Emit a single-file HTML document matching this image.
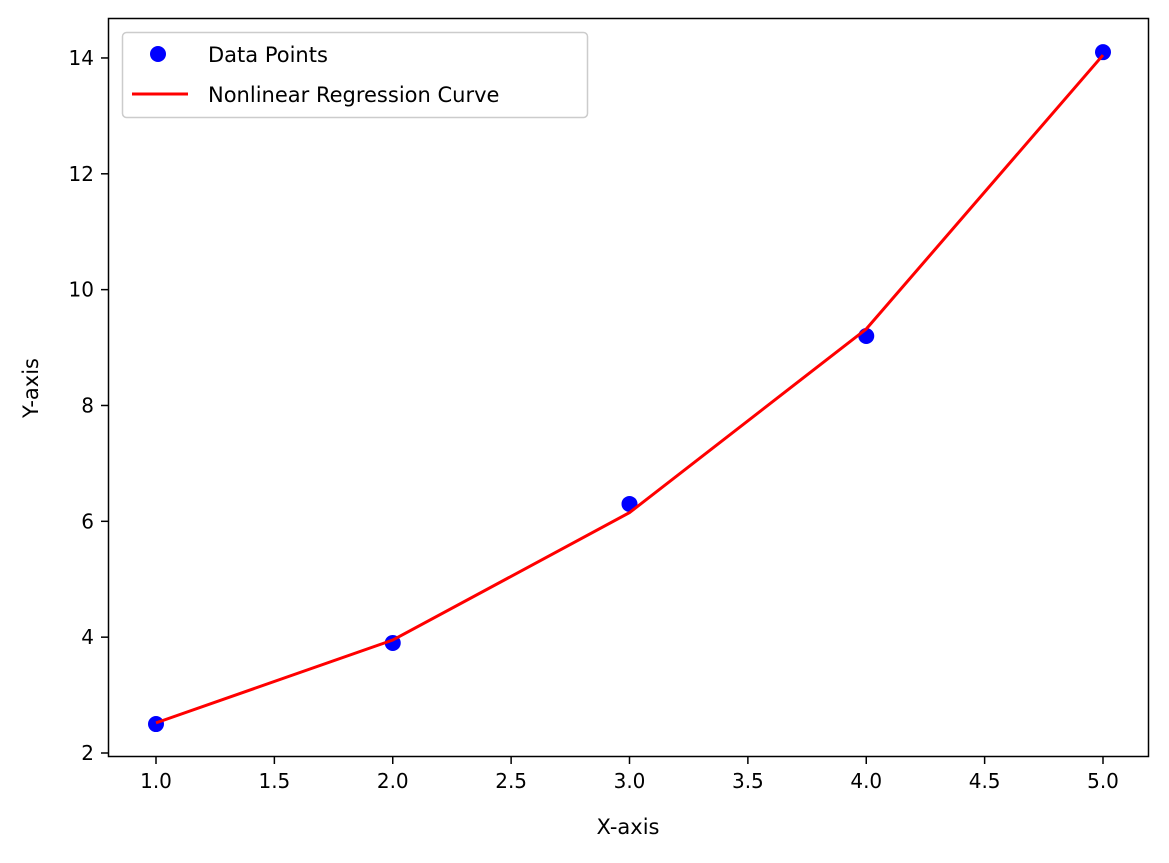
<!DOCTYPE html>
<html><head><meta charset="utf-8"><style>
body{margin:0;background:#fff;font-family:"Liberation Sans","DejaVu Sans",sans-serif;}
svg text{font-family:"DejaVu Sans","Liberation Sans",sans-serif;fill:#000;}
</style></head><body>
<svg id="chart" width="1169" height="858" xmlns="http://www.w3.org/2000/svg">
<rect x="0" y="0" width="1169" height="858" fill="#fff"/>
<g id="marks"></g>
<rect x="108.5" y="18.5" width="1040" height="738" fill="none" stroke="#000" stroke-width="1.5"/>
<g id="axes"></g>
<text x="628" y="834" font-size="21" text-anchor="middle">X-axis</text>
<text x="38" y="388" font-size="21" text-anchor="middle" transform="rotate(-90 38 388)">Y-axis</text>
<g>
<rect x="122.5" y="32.5" width="465" height="85" rx="4" fill="#fff" fill-opacity="0.8" stroke="#ccc" stroke-width="1.5"/>
<circle cx="158" cy="54" r="8" fill="#0000ff"/>
<text x="208" y="62" font-size="21">Data Points</text>
<line x1="132" y1="94" x2="188" y2="94" stroke="#ff0000" stroke-width="3"/>
<text x="208" y="102" font-size="21">Nonlinear Regression Curve</text>
</g>
</svg>
<script>
const xValues=[1,2,3,4,5];
const yValues=[2.5,3.9,6.3,9.2,14.1];
const fitValues=[2.52,3.95,6.15,9.32,14.05];
const xTicks=[1.0,1.5,2.0,2.5,3.0,3.5,4.0,4.5,5.0];
const yTicks=[2,4,6,8,10,12,14];
const NS="http://www.w3.org/2000/svg";
function sx(v){return 156+(v-1)*236.75;}
function sy(v){return 753-(v-2)*57.92;}
const marks=document.getElementById('marks');
const axes=document.getElementById('axes');
function mk(t,a,p){const e=document.createElementNS(NS,t);for(const k in a)e.setAttribute(k,a[k]);p.appendChild(e);return e;}
xValues.forEach((x,i)=>{
 const c=mk('circle',{cx:sx(x),cy:sy(yValues[i]),r:8,fill:'#0000ff'},marks);
 
 
});
const pl=mk('polyline',{points:xValues.map((x,i)=>sx(x)+','+sy(fitValues[i])).join(' '),fill:'none',stroke:'#ff0000','stroke-width':3},marks);


xTicks.forEach(t=>{
 const l=mk('line',{x1:sx(t),x2:sx(t),y1:757,y2:764,stroke:'#000','stroke-width':1.5},axes);
 
 
 const tx=mk('text',{x:sx(t),y:788,'font-size':20,'text-anchor':'middle'},axes);
 tx.textContent=t.toFixed(1);
 
 
});
yTicks.forEach(t=>{
 const l=mk('line',{x1:101,x2:108,y1:sy(t),y2:sy(t),stroke:'#000','stroke-width':1.5},axes);
 
 
 const tx=mk('text',{x:94,y:sy(t)+7,'font-size':20,'text-anchor':'end'},axes);
 tx.textContent=t;
 
 
});
</script>
</body></html>
